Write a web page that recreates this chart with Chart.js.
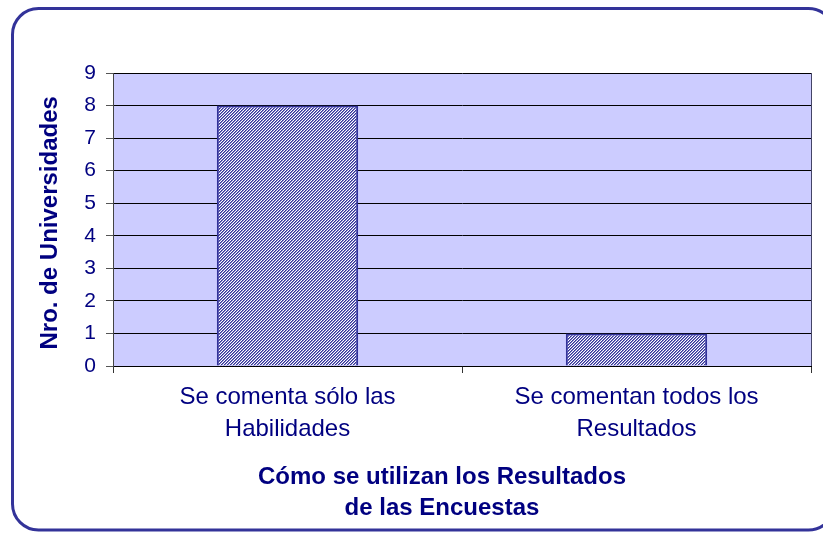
<!DOCTYPE html>
<html>
<head>
<meta charset="utf-8">
<script src="https://cdn.jsdelivr.net/npm/chart.js@4"></script>
<style>
  body { margin: 0; background: #fff; }
  #wrap { width: 823px; height: 533px; }
</style>
</head>
<body>
<div id="wrap"><canvas id="myChart" width="823" height="533"></canvas></div>
<script>
const categories = [
  ["Se comenta sólo las", "Habilidades"],
  ["Se comentan todos los", "Resultados"]
];
const values = [8, 1];
const yTicks = [0, 1, 2, 3, 4, 5, 6, 7, 8, 9];
const xTitle = ["Cómo se utilizan los Resultados", "de las Encuestas"];
const yTitle = "Nro. de Universidades";

const navy = "#000080";
const frameBlue = "#333399";
const font = "Liberation Sans, Arial, sans-serif";

// fine diagonal hatch like the old spreadsheet fill
function makeHatch() {
  const c = document.createElement("canvas");
  c.width = 3;
  c.height = 3;
  const g = c.getContext("2d");
  const shades = ["#333399", "#8080c4", "#ffffff"];
  for (let x = 0; x < 3; x++) {
    for (let y = 0; y < 3; y++) {
      g.fillStyle = shades[(x + y) % 3];
      g.fillRect(x, y, 1, 1);
    }
  }
  return g.createPattern(c, "repeat");
}

const backdrop = {
  id: "backdrop",
  beforeDraw(chart) {
    const ctx = chart.ctx;
    const a = chart.chartArea;
    ctx.save();
    ctx.fillStyle = "#ffffff";
    ctx.fillRect(0, 0, chart.width, chart.height);
    // rounded frame
    ctx.strokeStyle = frameBlue;
    ctx.lineWidth = 3;
    ctx.beginPath();
    ctx.roundRect(12.5, 8.5, 822, 521.5, 26);
    ctx.stroke();
    // plot area
    ctx.fillStyle = "#ccccff";
    ctx.fillRect(a.left, a.top, a.right - a.left, a.bottom - a.top);
    ctx.restore();
  },
  afterDraw(chart) {
    const ctx = chart.ctx;
    const a = chart.chartArea;
    ctx.save();
    ctx.strokeStyle = "#444466";
    ctx.lineWidth = 1;
    ctx.beginPath();
    ctx.moveTo(Math.round(a.right) + 0.5, a.top);
    ctx.lineTo(Math.round(a.right) + 0.5, a.bottom);
    ctx.stroke();
    ctx.restore();
  }
};

// titles sit a little off the plot centre in the original
const pad = "\u00a0".repeat(6);

const ctx = document.getElementById("myChart");

new Chart(ctx, {
  type: "bar",
  data: {
    labels: categories,
    datasets: [{
      data: values,
      backgroundColor: makeHatch(),
      borderColor: frameBlue,
      borderWidth: 2,
      barPercentage: 0.405,
      categoryPercentage: 1
    }]
  },
  options: {
    responsive: false,
    animation: false,
    events: [],
    layout: { padding: { left: 30, top: 73, right: 12, bottom: 0 } },
    plugins: {
      legend: { display: false },
      tooltip: { enabled: false }
    },
    scales: {
      x: {
        afterFit: function(scale) { scale.height = 533 - 366; },
        grid: {
          offset: true,
          drawOnChartArea: false,
          tickLength: 7,
          color: "#333333"
        },
        border: { color: "#000000", width: 1 },
        ticks: {
          color: navy,
          padding: 8,
          maxRotation: 0,
          font: { family: font, size: 24, lineHeight: "32px" }
        },
        title: {
          display: true,
          text: xTitle.map(t => t + pad),
          color: navy,
          padding: { top: 0, bottom: 9 },
          font: { family: font, size: 24, weight: "bold", lineHeight: "31px" }
        }
      },
      y: {
        min: 0,
        max: 9,
        afterFit: function(scale) { scale.width = 113 - 30; },
        afterBuildTicks: function(scale) {
          scale.ticks = yTicks.map(v => ({ value: v }));
        },
        grid: {
          color: "#000000",
          tickColor: "#555555",
          tickLength: 7,
          lineWidth: 1
        },
        border: { color: "#444444", width: 1 },
        ticks: {
          color: navy,
          padding: 10,
          font: { family: font, size: 21 }
        },
        title: {
          display: true,
          text: yTitle + "\u00a0",
          color: navy,
          padding: { top: 6, bottom: 0 },
          font: { family: font, size: 24, weight: "bold", lineHeight: "28px" }
        }
      }
    }
  },
  plugins: [backdrop]
});
</script>
</body>
</html>
